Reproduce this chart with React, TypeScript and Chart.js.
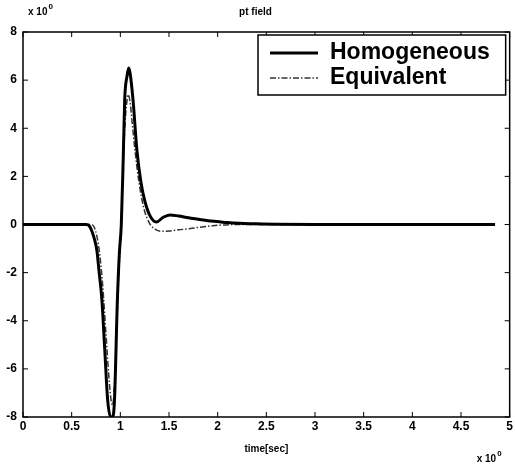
import React, { useEffect, useRef } from "react";
import { Chart, registerables } from "chart.js";

Chart.register(...registerables);

const titleText = "pt field";
const xAxisTitle = "time[sec]";
const exponentLabel = "x 10";
const exponentPower = "0";

const seriesNames = ["Homogeneous", "Equivalent"];

const homogeneousTime = [0, 0.5, 0.65, 0.68, 0.71, 0.74, 0.76, 0.78, 0.81, 0.84, 0.87, 0.9, 0.92, 0.94, 0.97, 0.99, 1.01, 1.03, 1.045, 1.07, 1.085, 1.1, 1.13, 1.17, 1.21, 1.25, 1.3, 1.37, 1.44, 1.51, 1.6, 1.7, 1.8, 1.9, 2.0, 2.1, 2.22, 2.4, 2.6, 3.0, 4.0, 4.85];
const homogeneousValue = [0, 0, 0, -0.05, -0.3, -0.7, -1.1, -1.9, -3.1, -5.2, -7.3, -8.0, -8.0, -7.3, -3.1, -1.2, 0.0, 2.8, 5.2, 6.2, 6.5, 6.3, 5.2, 3.1, 1.8, 1.0, 0.4, 0.1, 0.3, 0.4, 0.35, 0.28, 0.22, 0.16, 0.12, 0.08, 0.05, 0.03, 0.01, 0, 0, 0];

const equivalentTime = [0, 0.5, 0.7, 0.73, 0.76, 0.79, 0.82, 0.85, 0.88, 0.905, 0.92, 0.935, 0.96, 0.99, 1.01, 1.03, 1.05, 1.07, 1.08, 1.1, 1.12, 1.15, 1.19, 1.24, 1.3, 1.36, 1.42, 1.5, 1.6, 1.7, 1.8, 1.95, 2.2, 3.0, 4.0, 4.85];
const equivalentValue = [0, 0, 0, -0.1, -0.5, -1.3, -2.6, -4.4, -6.2, -7.3, -7.5, -7.0, -4.5, -1.5, 0.2, 2.5, 4.3, 5.2, 5.4, 5.1, 4.3, 3.1, 1.8, 0.7, 0.05, -0.2, -0.28, -0.27, -0.22, -0.18, -0.12, -0.05, 0, 0, 0, 0];

const xMin = 0;
const xMax = 5;
const xStep = 0.5;
const yMin = -8;
const yMax = 8;
const yStep = 2;

const FONT = "'Liberation Sans', Arial, sans-serif";

const boxAndTicks = {
  id: "boxAndTicks",
  afterDatasetsDraw(chart: any) {
    const { ctx, chartArea, scales } = chart;
    const { left, right, top, bottom } = chartArea;
    ctx.save();
    ctx.strokeStyle = "#000";
    ctx.lineWidth = 1.5;
    ctx.strokeRect(left, top, right - left, bottom - top);
    ctx.lineWidth = 1;
    const len = 5;
    scales.x.ticks.forEach((t: any) => {
      const px = scales.x.getPixelForValue(t.value);
      ctx.beginPath();
      ctx.moveTo(px, bottom);
      ctx.lineTo(px, bottom - len);
      ctx.moveTo(px, top);
      ctx.lineTo(px, top + len);
      ctx.stroke();
    });
    scales.y.ticks.forEach((t: any) => {
      const py = scales.y.getPixelForValue(t.value);
      ctx.beginPath();
      ctx.moveTo(left, py);
      ctx.lineTo(left + len, py);
      ctx.moveTo(right, py);
      ctx.lineTo(right - len, py);
      ctx.stroke();
    });
    ctx.restore();
  },
  afterDraw(chart: any) {
    const { ctx, chartArea } = chart;
    const { left, right, top, bottom } = chartArea;
    ctx.save();
    ctx.fillStyle = "#000";
    ctx.textBaseline = "alphabetic";
    ctx.textAlign = "left";
    // exponent labels
    ctx.font = `bold 10px ${FONT}`;
    ctx.fillText(exponentLabel, left + 5, top - 17);
    const w1 = ctx.measureText(exponentLabel).width;
    ctx.font = `bold 8px ${FONT}`;
    ctx.fillText(exponentPower, left + 5 + w1 + 1, top - 23);
    ctx.font = `bold 10px ${FONT}`;
    const w2 = ctx.measureText(exponentLabel).width;
    const bx = right - 33;
    ctx.fillText(exponentLabel, bx, bottom + 45);
    ctx.font = `bold 8px ${FONT}`;
    ctx.fillText(exponentPower, bx + w2 + 1, bottom + 39);

    // legend
    const lx = 258;
    const ly = top + 3;
    const lw = right - 4 - lx;
    const lh = 60;
    ctx.fillStyle = "#fff";
    ctx.fillRect(lx, ly, lw, lh);
    ctx.strokeStyle = "#000";
    ctx.lineWidth = 1.5;
    ctx.strokeRect(lx, ly, lw, lh);
    const ds = chart.data.datasets;
    const rows = [ly + 18, ly + 43];
    ds.forEach((d: any, i: number) => {
      const y = rows[i];
      ctx.save();
      ctx.strokeStyle = d.borderColor;
      ctx.lineWidth = d.borderWidth;
      ctx.setLineDash(d.borderDash || []);
      ctx.beginPath();
      ctx.moveTo(lx + 12, y);
      ctx.lineTo(lx + 60, y);
      ctx.stroke();
      ctx.restore();
      ctx.fillStyle = "#000";
      ctx.font = `bold 23px ${FONT}`;
      ctx.textBaseline = "middle";
      ctx.fillText(d.label, lx + 72, y);
    });
    ctx.restore();
  },
};

export default function App() {
  const canvasRef = useRef<HTMLCanvasElement | null>(null);

  useEffect(() => {
    const canvas = canvasRef.current;
    if (!canvas) return;
    const homogeneous = homogeneousTime.map((t, i) => ({ x: t, y: homogeneousValue[i] }));
    const equivalent = equivalentTime.map((t, i) => ({ x: t, y: equivalentValue[i] }));
    const chart = new Chart(canvas, {
      type: "line",
      data: {
        datasets: [
          {
            label: seriesNames[0],
            data: homogeneous,
            borderColor: "#000",
            borderWidth: 3,
            pointRadius: 0,
            cubicInterpolationMode: "monotone",
            fill: false,
          },
          {
            label: seriesNames[1],
            data: equivalent,
            borderColor: "#333",
            borderWidth: 1.5,
            borderDash: [6, 2, 1.5, 2],
            pointRadius: 0,
            cubicInterpolationMode: "monotone",
            fill: false,
          },
        ],
      },
      options: {
        animation: false,
        responsive: false,
        maintainAspectRatio: false,
        layout: { padding: { left: 0, right: 4, top: 0, bottom: 0 } },
        plugins: {
          legend: { display: false },
          tooltip: { enabled: false },
          title: {
            display: true,
            text: titleText,
            color: "#000",
            font: { family: FONT, size: 10, weight: "bold" },
            padding: { top: 6, bottom: 14 },
          },
        },
        scales: {
          x: {
            type: "linear",
            min: xMin,
            max: xMax,
            ticks: {
              stepSize: xStep,
              color: "#000",
              font: { family: FONT, size: 12, weight: "bold" },
              padding: 2,
              maxRotation: 0,
              callback: (v: any) => String(Math.round(Number(v) * 10) / 10),
            },
            grid: { display: false, drawTicks: false },
            border: { display: false },
            title: {
              display: true,
              text: xAxisTitle,
              color: "#000",
              font: { family: FONT, size: 10, weight: "bold" },
              padding: { top: 4, bottom: 12 },
            },
            afterFit: (s: any) => {
              s.height = 50;
            },
          },
          y: {
            type: "linear",
            min: yMin,
            max: yMax,
            ticks: {
              stepSize: yStep,
              color: "#000",
              font: { family: FONT, size: 12, weight: "bold" },
              padding: 6,
              callback: (v: any) => String(Number(v)),
            },
            grid: { display: false, drawTicks: false },
            border: { display: false },
            afterFit: (s: any) => {
              s.width = 23;
            },
          },
        },
      },
      plugins: [boxAndTicks],
    });
    return () => chart.destroy();
  }, []);

  return (
    <div style={{ position: "absolute", left: 0, top: 0, width: 515, height: 467, background: "#fff" }}>
      <canvas ref={canvasRef} width={515} height={467} />
    </div>
  );
}
